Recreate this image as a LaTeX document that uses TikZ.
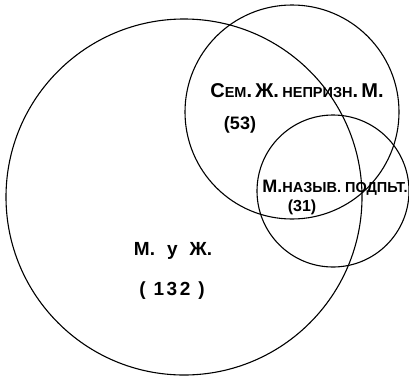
\documentclass[tikz,border=0pt]{standalone}
\usepackage{fontspec}
\setmainfont{Liberation Sans}
\newcommand{\smc}[1]{{\fontsize{14.5}{16}\selectfont #1}}
\begin{document}
\begin{tikzpicture}[x=1pt,y=-1pt,
  ring/.style={draw=black,line width=1.1pt},
  lbl/.style={font=\bfseries,inner sep=0pt,text=black}]
\useasboundingbox (0,0) rectangle (409,378);
\draw[ring] (184,197) circle[radius=178];
\draw[ring] (292,112) circle[radius=107];
\draw[ring] (333,191) circle[radius=76];
\node[lbl,font=\bfseries\fontsize{20}{22}\selectfont] (a) at (297,91) {С\smc{ЕМ}.\,Ж.\,\smc{НЕПРИЗН}.\,М.};
\node[lbl,font=\bfseries\fontsize{18}{20}\selectfont] (an) at (240,125) {(53)};
\node[lbl,font=\bfseries\fontsize{18}{20}\selectfont] (b) at (335,188) {М.\smc{НАЗЫВ. ПОДПЬТ.}};
\node[lbl,font=\bfseries\fontsize{16}{18}\selectfont] (bn) at (302,207) {(31)};
\node[lbl,font=\bfseries\fontsize{19}{20}\selectfont] (c) at (173,251) {М.\hspace{12pt}у\hspace{12pt}Ж.};
\node[lbl,font=\bfseries\fontsize{19}{20}\selectfont] (cn) at (172,291) {(\hspace{8pt}1\hspace{2.5pt}3\hspace{2.5pt}2\hspace{8pt})};
\end{tikzpicture}
\end{document}
